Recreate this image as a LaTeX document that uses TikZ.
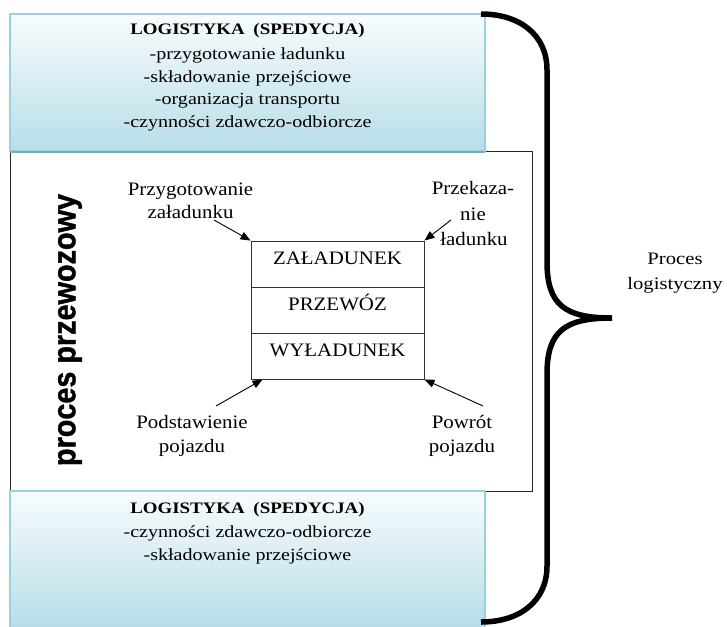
\documentclass[tikz,border=0pt]{standalone}
\usepackage{fontspec}
\setmainfont{Liberation Serif}
\newfontfamily\boxfont{Liberation Serif}[FakeStretch=1.18]
\newfontfamily\midfont{Liberation Serif}[FakeStretch=1.1]
\newfontfamily\vfont{Liberation Sans}[FakeStretch=0.9,FakeBold=1.2]
\usetikzlibrary{arrows.meta}
\definecolor{lbfill}{RGB}{183,221,232}
\definecolor{lbtop}{RGB}{248,252,253}
\definecolor{lbline}{RGB}{155,208,224}
\definecolor{lbshadow}{RGB}{125,170,185}
\begin{document}
\begin{tikzpicture}[x=1pt,y=-1pt,
  logbox/.style={draw=lbline, line width=1.5pt, top color=lbtop, bottom color=lbfill,
    minimum width=475pt, minimum height=137pt, inner sep=0pt, outer sep=0pt},
  procbox/.style={draw=black!85, line width=0.9pt, minimum width=522pt, minimum height=340pt, inner sep=0pt},
  cell/.style={draw=black!80, line width=0.9pt, minimum width=173pt, minimum height=46pt,
    inner sep=0pt, text height=6pt, text depth=6pt, font=\midfont\fontsize{19}{23}\selectfont},
  boxhead/.style={anchor=base, inner sep=0pt, font=\boxfont\bfseries\fontsize{16}{20}\selectfont},
  boxline/.style={anchor=base, inner sep=0pt, font=\boxfont\fontsize{17}{23}\selectfont},
  midlab/.style={anchor=base, inner sep=0pt, font=\midfont\fontsize{19}{23}\selectfont},
  sidelab/.style={anchor=base, inner sep=0pt, font=\boxfont\fontsize{17.5}{23}\selectfont},
  arr/.style={draw=black, line width=0.9pt, -{Triangle[length=10pt,width=8pt]}},
  brace/.style={draw=black, line width=5.5pt, line cap=butt}
]
\useasboundingbox (0,0) rectangle (727,626);

% middle process box
\node[procbox] (proc) at (271,321) {};

% top and bottom logistics boxes
\node[logbox] (top) at (247.5,82.5) {};
\draw[lbshadow, line width=1.2pt] ([yshift=-0.9pt]top.south west) -- ([yshift=-0.9pt]top.south east);
\node[logbox] (bot) at (247.5,559.5) {};

% top box text
\node[boxhead] (t1) at (247.5,35) {LOGISTYKA\hspace{0.55em}(SPEDYCJA)};
\node[boxline] (t2) at (247.5,59.5) {-przygotowanie ładunku};
\node[boxline] (t3) at (247.5,82) {-składowanie przejściowe};
\node[boxline] (t4) at (247.5,104.5) {-organizacja transportu};
\node[boxline] (t5) at (247.5,127) {-czynności zdawczo-odbiorcze};

% bottom box text
\node[boxhead] (b1) at (247.5,513) {LOGISTYKA\hspace{0.55em}(SPEDYCJA)};
\node[boxline] (b2) at (247.5,537) {-czynności zdawczo-odbiorcze};
\node[boxline] (b3) at (247.5,560) {-składowanie przejściowe};

% vertical label
\node[rotate=90, inner sep=0pt, font=\vfont\bfseries\fontsize{32}{32}\selectfont] (pp) at (70,330) {proces przewozowy};

% central stack
\node[cell] (zal) at (337.5,264) {ZAŁADUNEK};
\node[cell] (prz) at (337.5,310) {PRZEWÓZ};
\node[cell] (wyl) at (337.5,356) {WYŁADUNEK};

% corner labels
\node[midlab] (pz1) at (190.5,195) {Przygotowanie};
\node[midlab] (pz2) at (190.5,218) {załadunku};
\node[midlab] (pk1) at (473,194) {Przekaza-};
\node[midlab] (pk2) at (473,220) {nie};
\node[midlab] (pk3) at (474,245) {ładunku};
\node[midlab] (po1) at (192,428) {Podstawienie};
\node[midlab] (po2) at (192,452) {pojazdu};
\node[midlab] (pw1) at (462,428) {Powrót};
\node[midlab] (pw2) at (462,452) {pojazdu};

% arrow start points
\coordinate (sa) at (214,220);
\coordinate (sb) at (451,220);
\coordinate (sc) at (216,406);
\coordinate (sd) at (483,406);
\coordinate (ec) at ([xshift=12pt]wyl.south west);

\draw[arr] (sa) -- (zal.north west);
\draw[arr] (sb) -- (zal.north east);
\draw[arr] (sc) -- (ec);
\draw[arr] (sd) -- (wyl.south east);

% right label
\node[sidelab] (pl1) at (675,264) {Proces};
\node[sidelab] (pl2) at (675,289) {logistyczny};

% brace
\coordinate (br0) at (481,14);
\coordinate (brt) at (612,318);
\coordinate (br1) at (481,622);
\draw[brace] (br0) .. controls (520,14) and (547,35) .. (547,70)
  -- (547,262) .. controls (547,305) and (565,318) .. (brt)
  .. controls (565,318) and (547,331) .. (547,374)
  -- (547,566) .. controls (547,601) and (520,622) .. (br1);
\end{tikzpicture}
\end{document}
